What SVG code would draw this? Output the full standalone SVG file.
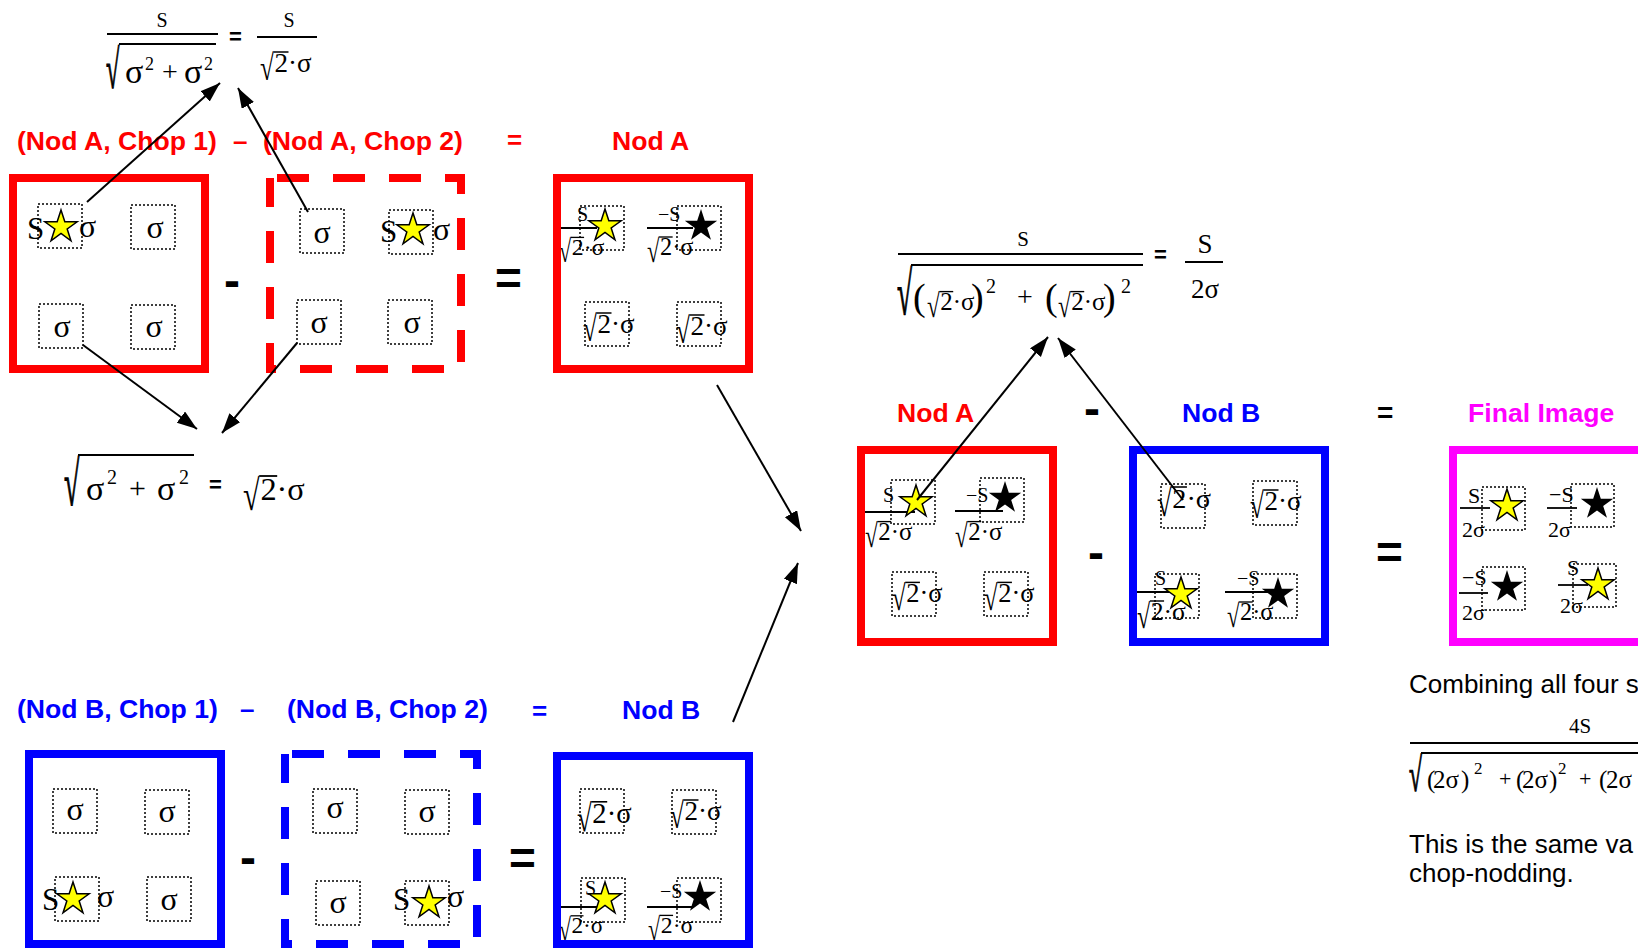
<svg xmlns="http://www.w3.org/2000/svg" width="1638" height="949" viewBox="0 0 1638 949">
<style>
.t{font-family:"Liberation Serif","Times New Roman",serif;fill:#000}
.lb{font-family:"Liberation Sans",Arial,sans-serif;font-weight:bold}
.tx{font-family:"Liberation Sans",Arial,sans-serif;fill:#000}
.red{fill:#f00}.blu{fill:#00f}.mag{fill:#f0f}.blk{fill:#000}
.box{fill:none;stroke-width:8}
.sr{stroke:#f00}.sb{stroke:#00f}.sm{stroke:#f0f}
.dash{stroke-dasharray:32 24;stroke-dashoffset:-7}
.dot{fill:none;stroke:#000;stroke-width:1.5;stroke-dasharray:2 2}
.bar{stroke:#000;stroke-width:1.8}
.rad{stroke:#000;stroke-width:1.2}
.ys{fill:#ff0;stroke:#000;stroke-width:1.5}
.bs{fill:#000}
.con{stroke:#000;stroke-width:2;fill:none;marker-end:url(#ah)}
</style>
<defs>
<marker id="ah" markerUnits="userSpaceOnUse" markerWidth="21" markerHeight="15" refX="20" refY="7" orient="auto"><path d="M0,0 L20,7 L0,14 Z" fill="#000"/></marker>
<path id="star" d="M0,-17 L3.82,-5.26 L16.17,-5.25 L6.18,2.01 L9.99,13.75 L0,6.5 L-9.99,13.75 L-6.18,2.01 L-16.17,-5.25 L-3.82,-5.26 Z"/>
<g id="r2s" class="t" font-size="27"><text transform="translate(0,8) scale(0.7,1)" font-size="36">√</text><line x1="13.5" y1="-20" x2="28.5" y2="-20" stroke="#000" stroke-width="1.5"/><text x="14.5" y="0">2·σ</text></g>
</defs>
<rect width="1638" height="949" fill="#fff"/>

<g id="eq-top" class="t">
<text x="162" y="27" font-size="20" text-anchor="middle">S</text>
<line class="bar" x1="107" y1="34" x2="218" y2="34"/>
<text class="rad" transform="translate(106,88) scale(0.45,1)" font-size="54">√</text>
<line class="bar" x1="119" y1="44" x2="216" y2="44"/>
<text y="83" font-size="34"><tspan x="125">σ</tspan><tspan x="145" y="70" font-size="18">2</tspan><tspan x="162" y="81" font-size="28">+</tspan><tspan x="184" y="83" font-size="34">σ</tspan><tspan x="204" y="70" font-size="18">2</tspan></text>
<text class="lb" x="229" y="44" font-size="22">=</text>
<text x="289" y="27" font-size="20" text-anchor="middle">S</text>
<line class="bar" x1="257" y1="37" x2="317" y2="37"/>
<use href="#r2s" transform="translate(260,72)"/>
</g>

<g id="eq-left" class="t">
<text class="rad" transform="translate(64,505) scale(0.45,1)" font-size="62">√</text>
<line class="bar" x1="78" y1="455" x2="194" y2="455"/>
<text y="500" font-size="34"><tspan x="86">σ</tspan><tspan x="107" y="484" font-size="20">2</tspan><tspan x="129" y="498" font-size="30">+</tspan><tspan x="157" y="500" font-size="34">σ</tspan><tspan x="179" y="484" font-size="20">2</tspan></text>
<text class="lb" x="209" y="492" font-size="22">=</text>
<use href="#r2s" transform="translate(243,500) scale(1.2)"/>
</g>

<g id="eq-mid" class="t">
<text x="1023" y="246" font-size="21" text-anchor="middle">S</text>
<line class="bar" x1="898" y1="254" x2="1143" y2="254"/>
<text class="rad" transform="translate(897,314) scale(0.45,1)" font-size="61">√</text>
<line class="bar" x1="911" y1="265" x2="1143" y2="265"/>
<text y="310" font-size="38"><tspan x="913">(</tspan><tspan x="971">)</tspan><tspan x="986" y="293" font-size="20">2</tspan><tspan x="1017" y="306" font-size="28">+</tspan><tspan x="1045" y="310" font-size="38">(</tspan><tspan x="1103">)</tspan><tspan x="1121" y="293" font-size="20">2</tspan></text>
<use href="#r2s" transform="translate(927,310) scale(0.92)"/>
<use href="#r2s" transform="translate(1058,310) scale(0.92)"/>
<text class="lb" x="1154" y="262" font-size="22">=</text>
<text x="1205" y="253" font-size="27" text-anchor="middle">S</text>
<line class="bar" x1="1185" y1="262" x2="1223" y2="262"/>
<text x="1205" y="298" font-size="27" text-anchor="middle">2σ</text>
</g>

<g id="chopA1">
<text class="lb red" x="17" y="150" font-size="26.6">(Nod A, Chop 1)</text>
<g class="t" font-size="32">
<text x="27" y="239" font-size="31">S</text>
<text x="79" y="237">σ</text>
<text x="155" y="238" text-anchor="middle">σ</text>
<text x="62" y="337" text-anchor="middle">σ</text>
<text x="154" y="337" text-anchor="middle">σ</text>
</g>
<rect class="dot" x="38" y="204" width="44" height="44"/>
<rect class="dot" x="131" y="205" width="44" height="44"/>
<rect class="dot" x="39" y="304" width="44" height="44"/>
<rect class="dot" x="131" y="305" width="44" height="44"/>
<use href="#star" class="ys" x="61" y="227"/>
<rect class="box sr" x="13" y="178" width="192" height="191"/>
</g>

<g id="chopA2">
<text class="lb red" x="263" y="150" font-size="26.6">(Nod A, Chop 2)</text>
<g class="t" font-size="32">
<text x="322" y="243" text-anchor="middle">σ</text>
<text x="380" y="242" font-size="31">S</text>
<text x="433" y="240">σ</text>
<text x="319" y="333" text-anchor="middle">σ</text>
<text x="412" y="333" text-anchor="middle">σ</text>
</g>
<rect class="dot" x="300" y="209" width="44" height="44"/>
<rect class="dot" x="389" y="210" width="44" height="44"/>
<rect class="dot" x="297" y="300" width="44" height="44"/>
<rect class="dot" x="388" y="300" width="44" height="44"/>
<use href="#star" class="ys" x="413" y="230"/>
<rect class="box sr dash" x="270" y="178" width="191" height="191"/>
</g>

<g id="nodA">
<text class="lb red" x="612" y="150" font-size="26.6">Nod A</text>
<g class="t" font-size="20">
<text x="577" y="221">S</text>
<text x="658" y="221">−S</text>
</g>
<line class="bar" x1="559" y1="228" x2="597" y2="228"/>
<line class="bar" x1="647" y1="228" x2="693" y2="228"/>
<use href="#r2s" transform="translate(559,255) scale(0.88)"/>
<use href="#r2s" transform="translate(647,255) scale(0.9)"/>
<use href="#r2s" transform="translate(583,333)"/>
<use href="#r2s" transform="translate(676,335)"/>
<rect class="dot" x="580" y="206" width="44" height="44"/>
<rect class="dot" x="677" y="206" width="44" height="44"/>
<rect class="dot" x="585" y="302" width="44" height="44"/>
<rect class="dot" x="677" y="302" width="44" height="44"/>
<use href="#star" class="ys" x="605" y="226"/>
<use href="#star" class="bs" x="701" y="226"/>
<rect class="box sr" x="557" y="178" width="192" height="191"/>
</g>

<g id="chopB1">
<text class="lb blu" x="17" y="718" font-size="26.6">(Nod B, Chop 1)</text>
<g class="t" font-size="32">
<text x="75" y="820" text-anchor="middle">σ</text>
<text x="167" y="822" text-anchor="middle">σ</text>
<text x="42" y="910" font-size="31">S</text>
<text x="97" y="907">σ</text>
<text x="169" y="910" text-anchor="middle">σ</text>
</g>
<rect class="dot" x="53" y="789" width="44" height="44"/>
<rect class="dot" x="145" y="790" width="44" height="44"/>
<rect class="dot" x="55" y="877" width="44" height="44"/>
<rect class="dot" x="147" y="877" width="44" height="44"/>
<use href="#star" class="ys" x="73" y="899"/>
<rect class="box sb" x="29" y="754" width="192" height="190"/>
</g>

<g id="chopB2">
<text class="lb blu" x="287" y="718" font-size="26.6">(Nod B, Chop 2)</text>
<g class="t" font-size="32">
<text x="335" y="818" text-anchor="middle">σ</text>
<text x="427" y="822" text-anchor="middle">σ</text>
<text x="338" y="913" text-anchor="middle">σ</text>
<text x="393" y="910" font-size="31">S</text>
<text x="447" y="907">σ</text>
</g>
<rect class="dot" x="313" y="789" width="44" height="44"/>
<rect class="dot" x="405" y="790" width="44" height="44"/>
<rect class="dot" x="316" y="881" width="44" height="44"/>
<rect class="dot" x="405" y="881" width="44" height="44"/>
<use href="#star" class="ys" x="429" y="903"/>
<rect class="box sb dash" x="285" y="754" width="192" height="190"/>
</g>

<g id="nodB">
<text class="lb blu" x="622" y="719" font-size="26.6">Nod B</text>
<use href="#r2s" transform="translate(577,823) scale(1.06)"/>
<use href="#r2s" transform="translate(670,820)"/>
<g class="t" font-size="20">
<text x="585" y="895">S</text>
<text x="660" y="898">−S</text>
</g>
<line class="bar" x1="559" y1="907" x2="600" y2="907"/>
<line class="bar" x1="647" y1="907" x2="693" y2="907"/>
<use href="#r2s" transform="translate(559,933) scale(0.86)"/>
<use href="#r2s" transform="translate(648,933) scale(0.88)"/>
<rect class="dot" x="580" y="789" width="44" height="44"/>
<rect class="dot" x="672" y="790" width="44" height="44"/>
<rect class="dot" x="581" y="878" width="44" height="44"/>
<rect class="dot" x="677" y="878" width="44" height="44"/>
<use href="#star" class="ys" x="605" y="899"/>
<use href="#star" class="bs" x="700" y="897"/>
<rect class="box sb" x="557" y="756" width="192" height="188"/>
</g>

<g id="nodA2">
<text class="lb red" x="897" y="422" font-size="26.6">Nod A</text>
<g class="t" font-size="20">
<text x="883" y="502">S</text>
<text x="966" y="502">−S</text>
</g>
<line class="bar" x1="865" y1="512" x2="915" y2="512"/>
<line class="bar" x1="955" y1="511" x2="1003" y2="511"/>
<use href="#r2s" transform="translate(865,540) scale(0.92)"/>
<use href="#r2s" transform="translate(955,540) scale(0.92)"/>
<use href="#r2s" transform="translate(892,602) scale(0.98)"/>
<use href="#r2s" transform="translate(984,602) scale(0.98)"/>
<rect class="dot" x="891" y="480" width="44" height="44"/>
<rect class="dot" x="980" y="478" width="44" height="44"/>
<rect class="dot" x="892" y="572" width="44" height="44"/>
<rect class="dot" x="984" y="572" width="44" height="44"/>
<use href="#star" class="ys" x="916" y="502"/>
<use href="#star" class="bs" x="1005" y="498"/>
<rect class="box sr" x="861" y="450" width="192" height="192"/>
</g>

<g id="nodB2">
<text class="lb blu" x="1182" y="422" font-size="26.6">Nod B</text>
<use href="#r2s" transform="translate(1157,508) scale(1.05)"/>
<use href="#r2s" transform="translate(1250,510)"/>
<g class="t" font-size="20">
<text x="1155" y="585">S</text>
<text x="1237" y="585">−S</text>
</g>
<line class="bar" x1="1137" y1="592" x2="1177" y2="592"/>
<line class="bar" x1="1225" y1="592" x2="1270" y2="592"/>
<use href="#r2s" transform="translate(1137,620) scale(0.95)"/>
<use href="#r2s" transform="translate(1227,620) scale(0.9)"/>
<rect class="dot" x="1161" y="484" width="44" height="44"/>
<rect class="dot" x="1253" y="481" width="44" height="44"/>
<rect class="dot" x="1155" y="574" width="44" height="44"/>
<rect class="dot" x="1253" y="574" width="44" height="44"/>
<use href="#star" class="ys" x="1181" y="594"/>
<use href="#star" class="bs" x="1278" y="594"/>
<rect class="box sb" x="1133" y="450" width="192" height="192"/>
</g>

<g id="final">
<text class="lb mag" x="1468" y="422" font-size="26.6">Final Image</text>
<g class="t" font-size="22">
<text x="1468" y="503">S</text>
<text x="1462" y="537">2σ</text>
<text x="1549" y="502">−S</text>
<text x="1548" y="537">2σ</text>
<text x="1462" y="585">−S</text>
<text x="1462" y="620">2σ</text>
<text x="1567" y="575">S</text>
<text x="1560" y="613">2σ</text>
</g>
<line class="bar" x1="1460" y1="508" x2="1490" y2="508"/>
<line class="bar" x1="1547" y1="508" x2="1577" y2="508"/>
<line class="bar" x1="1459" y1="593" x2="1488" y2="593"/>
<line class="bar" x1="1558" y1="585" x2="1588" y2="585"/>
<rect class="dot" x="1482" y="487" width="43" height="43"/>
<rect class="dot" x="1571" y="484" width="43" height="43"/>
<rect class="dot" x="1482" y="567" width="43" height="43"/>
<rect class="dot" x="1573" y="564" width="43" height="43"/>
<use href="#star" class="ys" x="1507" y="506"/>
<use href="#star" class="bs" x="1597" y="504"/>
<use href="#star" class="bs" x="1507" y="587"/>
<use href="#star" class="ys" x="1598" y="585"/>
<rect class="box sm" x="1453" y="450" width="192" height="192"/>
</g>

<g id="note">
<text class="tx" x="1409" y="693" font-size="26">Combining all four s</text>
<g class="t">
<text x="1580" y="733" font-size="21" text-anchor="middle">4S</text>
<line class="bar" x1="1410" y1="743" x2="1640" y2="743"/>
<text class="rad" transform="translate(1409,791) scale(0.5,1)" font-size="47">√</text>
<line class="bar" x1="1421" y1="753" x2="1640" y2="753"/>
<text y="788" font-size="25"><tspan x="1427">(</tspan><tspan x="1433">2σ</tspan><tspan x="1461">)</tspan><tspan x="1474" y="774" font-size="17">2</tspan><tspan x="1499" y="786" font-size="22">+</tspan><tspan x="1516" y="788">(</tspan><tspan x="1522">2σ</tspan><tspan x="1549">)</tspan><tspan x="1558" y="774" font-size="17">2</tspan><tspan x="1579" y="786" font-size="22">+</tspan><tspan x="1599" y="788">(</tspan><tspan x="1606">2σ</tspan></text>
</g>
<text class="tx" x="1409" y="853" font-size="26">This is the same va</text>
<text class="tx" x="1409" y="882" font-size="26">chop-nodding.</text>
</g>

<g id="operators" class="lb">
<text class="red" x="233" y="150" font-size="26">–</text>
<text class="red" x="507" y="149" font-size="26">=</text>
<text class="blu" x="240" y="718" font-size="26">–</text>
<text class="blu" x="532" y="720" font-size="26">=</text>
<text class="blk" x="224" y="297" font-size="48">-</text>
<text class="blk" x="495" y="294" font-size="46">=</text>
<text class="blk" x="240" y="874" font-size="48">-</text>
<text class="blk" x="509" y="874" font-size="46">=</text>
<text class="blk" x="1084" y="425" font-size="48">-</text>
<text class="blk" x="1088" y="569" font-size="48">-</text>
<text class="blk" x="1377" y="422" font-size="28">=</text>
<text class="blk" x="1376" y="568" font-size="46">=</text>
</g>

<g id="connectors">
<line class="con" x1="87" y1="202" x2="220" y2="83"/>
<line class="con" x1="308" y1="212" x2="238" y2="88"/>
<line class="con" x1="83" y1="345" x2="197" y2="429"/>
<line class="con" x1="297" y1="343" x2="222" y2="433"/>
<line class="con" x1="717" y1="385" x2="801" y2="531"/>
<line class="con" x1="733" y1="722" x2="798" y2="563"/>
<line class="con" x1="917" y1="500" x2="1048" y2="337"/>
<line class="con" x1="1183" y1="500" x2="1058" y2="338"/>
</g>
</svg>
